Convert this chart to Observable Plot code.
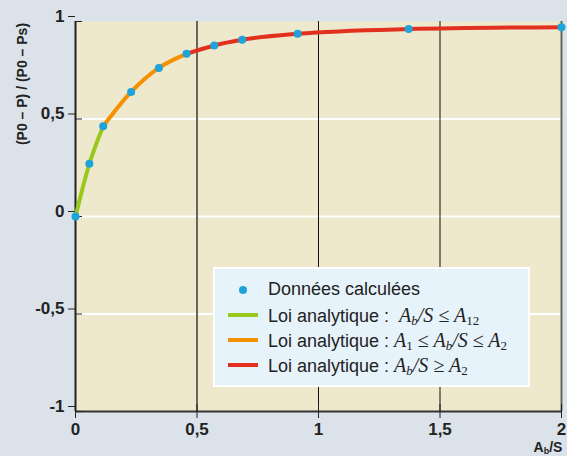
<!DOCTYPE html>
<html>
<head>
<meta charset="utf-8">
<script src="https://cdn.jsdelivr.net/npm/d3@7"></script>
<script src="https://cdn.jsdelivr.net/npm/@observablehq/plot@0.6"></script>
<style>
  body { margin: 0; background: #dbe2e9; }
  #wrap { position: relative; width: 567px; height: 456px; background: #dbe2e9; overflow: hidden;
          font-family: "Liberation Sans", Arial, sans-serif; }
  #ylab { position: absolute; left: 22px; top: 84px; transform: translate(-50%, -50%) rotate(-90deg);
          font-weight: bold; font-size: 14px; color: #222; white-space: nowrap; }
  #xlab { position: absolute; left: 548px; top: 440px; transform: translateX(-50%);
          font-weight: bold; font-size: 14px; color: #222; white-space: nowrap; line-height: 1; }
  #xlab sub { font-size: 9px; vertical-align: -2px; line-height: 0; }
  #legend { position: absolute; left: 213px; top: 267px; width: 313px; height: 116px;
            background: #e7f3fa; border: 2px solid #ffffff; }
  .row { position: absolute; left: 0; height: 25px; width: 100%; }
  .row .txt { position: absolute; left: 53px; top: 50%; transform: translateY(-50%);
              font-size: 18px; color: #222; white-space: nowrap; line-height: 1.2; }
  .row .sym { position: absolute; left: 13px; top: 50%; width: 30px; height: 4px; margin-top: -2px; }
  .row .dot { position: absolute; left: 24px; top: 50%; width: 8px; height: 8px; margin-top: -4px;
              border-radius: 50%; background: #1ea4d8; }
  .m { font-family: "Liberation Serif", "DejaVu Serif", serif; font-style: italic; font-size: 20px; }
  .m sub { font-size: 13px; vertical-align: -3px; line-height: 0; }
  .m .n { font-style: normal; }
</style>
</head>
<body>
<div id="wrap"></div>
<script>
// Data
const xData = [0, 0.057, 0.114, 0.229, 0.343, 0.457, 0.571, 0.686, 0.914, 1.371, 2];
const yData = [0, 0.27, 0.463, 0.639, 0.762, 0.834, 0.877, 0.906, 0.937, 0.961, 0.971];
const greenIdx = [0, 1, 2];
const orangeIdx = [2, 3, 4, 5];
const redIdx = [5, 6, 7, 8, 9, 10];
const xTicks = [0, 0.5, 1, 1.5, 2];
const yTicks = [-1, -0.5, 0, 0.5, 1];
const hGrid = [-0.5, 0, 0.5];
const vGridGray = [0.5, 2];
const vGridBlack = [1, 1.5];

const pts = xData.map((x, i) => ({x, y: yData[i]}));
const seg = idx => idx.map(i => pts[i]);
const fmt = d => String(d).replace(".", ",");

const chart = Plot.plot({
  width: 567,
  height: 456,
  marginLeft: 75,
  marginRight: 6,
  marginTop: 21,
  marginBottom: 45,
  style: { background: "transparent", fontFamily: "Liberation Sans, Arial, sans-serif" },
  x: { domain: [0, 2], ticks: xTicks },
  y: { domain: [-1, 1], ticks: yTicks },
  marks: [
    Plot.frame({ fill: "#eee8cc", stroke: null }),
    Plot.ruleY(hGrid, { stroke: "#ffffff", strokeWidth: 2 }),
    Plot.ruleX(vGridGray, { stroke: "#666660", strokeWidth: 2 }),
    Plot.ruleX(vGridBlack, { stroke: "#111111", strokeWidth: 1 }),
    Plot.ruleX([0], { stroke: "#222", strokeWidth: 2 }),
    Plot.ruleY([-1], { stroke: "#333", strokeWidth: 2 }),
    Plot.axisY({ ticks: yTicks, tickSize: 7, tickPadding: 4, tickFormat: fmt, label: null,
                 fontSize: 17, fontWeight: "bold", dy: -5, stroke: "#222", color: "#222" }),
    Plot.axisY({ ticks: yTicks, tickSize: -7, text: null, label: null, stroke: "#222" }),
    Plot.axisX({ ticks: xTicks, tickSize: 7, tickPadding: 4, tickFormat: fmt, label: null,
                 fontSize: 17, fontWeight: "bold", stroke: "#222", color: "#222" }),
    Plot.axisX({ ticks: xTicks, tickSize: -7, text: null, label: null, stroke: "#222" }),
    Plot.line(seg(redIdx), { x: "x", y: "y", stroke: "#e2301f", strokeWidth: 4, curve: "monotone-x" }),
    Plot.line(seg(orangeIdx), { x: "x", y: "y", stroke: "#f39100", strokeWidth: 4, curve: "monotone-x" }),
    Plot.line(seg(greenIdx), { x: "x", y: "y", stroke: "#98c91c", strokeWidth: 4, curve: "monotone-x" }),
    Plot.dot(pts, { x: "x", y: "y", r: 4, fill: "#1ea4d8", stroke: null })
  ]
});

const wrap = document.getElementById("wrap");
wrap.appendChild(chart);

const legendRows = [
  { type: "dot", color: "#1ea4d8", html: "Données calculées" },
  { type: "line", color: "#98c91c", html: 'Loi analytique :&nbsp; <span class="m">A<sub>b</sub>/S <span class="n">≤</span> A<sub class="n">12</sub></span>' },
  { type: "line", color: "#f39100", html: 'Loi analytique : <span class="m">A<sub class="n">1</sub> <span class="n">≤</span> A<sub>b</sub>/S <span class="n">≤</span> A<sub class="n">2</sub></span>' },
  { type: "line", color: "#e2301f", html: 'Loi analytique : <span class="m">A<sub>b</sub>/S <span class="n">≥</span> A<sub class="n">2</sub></span>' }
];

const lg = document.createElement("div");
lg.id = "legend";
legendRows.forEach((r, i) => {
  const row = document.createElement("div");
  row.className = "row";
  row.style.top = (8 + i * 25) + "px";
  const s = document.createElement("div");
  s.className = r.type === "dot" ? "dot" : "sym";
  s.style.background = r.color;
  row.appendChild(s);
  const t = document.createElement("div");
  t.className = "txt";
  t.innerHTML = r.html;
  row.appendChild(t);
  lg.appendChild(row);
});
wrap.appendChild(lg);

const yl = document.createElement("div");
yl.id = "ylab";
yl.textContent = "(P0 – P) / (P0 – Ps)";
wrap.appendChild(yl);

const xl = document.createElement("div");
xl.id = "xlab";
xl.innerHTML = "A<sub>b</sub>/S";
wrap.appendChild(xl);
</script>
</body>
</html>
